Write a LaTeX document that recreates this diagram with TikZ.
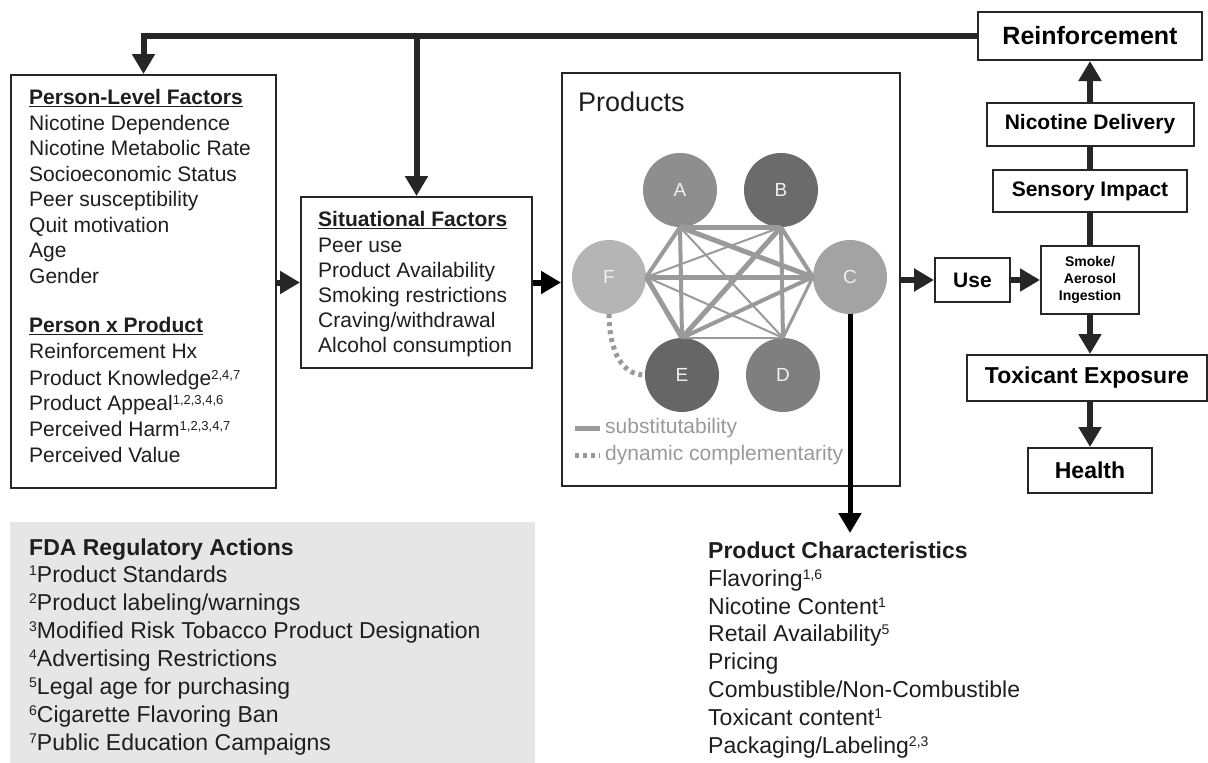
\documentclass[tikz,border=0pt]{standalone}
\usepackage{fontspec}
\setmainfont{Liberation Sans}
\usetikzlibrary{arrows.meta}
\definecolor{ink}{HTML}{262626}
\definecolor{txtc}{HTML}{1E1E1E}
\definecolor{edgec}{HTML}{9A9A9A}
\definecolor{fdagray}{HTML}{E6E6E6}
\definecolor{cA}{HTML}{8E8E8E}
\definecolor{cB}{HTML}{6B6B6B}
\definecolor{cC}{HTML}{A3A3A3}
\definecolor{cD}{HTML}{7F7F7F}
\definecolor{cE}{HTML}{666666}
\definecolor{cF}{HTML}{B5B5B5}
\newcommand\setfs[2]{\fontsize{#1}{#2}\selectfont}
\newcommand\supS[1]{\raisebox{6pt}{\fontsize{13}{13}\selectfont #1}}
\newcommand\supL[1]{\raisebox{7pt}{\fontsize{14}{14}\selectfont #1}}
\tikzset{
  box/.style={draw=ink, line width=2pt, fill=white, inner sep=0pt},
  darr/.style={draw=ink, line width=6pt, -{Triangle[length=20pt,width=22pt]}},
  barr/.style={draw=black, line width=6pt, -{Triangle[length=20pt,width=22pt]}},
  dline/.style={draw=ink, line width=6pt},
  txt/.style={anchor=base west, inner sep=0pt, text=txtc, font=\setfs{21}{25}},
  hdr/.style={anchor=base west, inner sep=0pt, text=txtc, font=\bfseries\setfs{21}{25}},
  txtL/.style={anchor=base west, inner sep=0pt, text=txtc, font=\setfs{23}{28}},
  hdrL/.style={anchor=base west, inner sep=0pt, text=txtc, font=\bfseries\setfs{23}{28}},
  prodc/.style={circle, minimum size=74pt, inner sep=0pt, text=white!94!black, font=\setfs{19}{19}},
  sub/.style={draw=edgec},
  legtxt/.style={anchor=west, inner sep=0pt, text=edgec, font=\setfs{21}{25}},
}
\begin{document}
\begin{tikzpicture}[x=1pt,y=-1pt]
\useasboundingbox[fill=white] (0,0) rectangle (1208,763);

% FDA panel
\node[fill=fdagray, minimum width=525pt, minimum height=241pt, inner sep=0pt, anchor=north west] (fda) at (10,522) {};

% boxes
\node[box, minimum width=265pt, minimum height=413pt] (personbox) at (143.5,281.5) {};
\node[box, minimum width=231pt, minimum height=171pt] (sitbox) at (416.5,282.5) {};
\node[box, minimum width=338pt, minimum height=413pt] (prodbox) at (731,279.5) {};
\node[box, minimum width=224pt, minimum height=48pt, font=\bfseries\setfs{25}{30}] (reinf) at (1090,36) {Reinforcement};
\node[box, minimum width=207pt, minimum height=43pt, font=\bfseries\setfs{21}{25}] (nicdel) at (1090,124.5) {Nicotine Delivery};
\node[box, minimum width=194pt, minimum height=42pt, font=\bfseries\setfs{21}{25}] (sensory) at (1090,191) {Sensory Impact};
\node[box, minimum width=75pt, minimum height=44pt, font=\bfseries\setfs{21}{25}] (use) at (972.5,280) {Use};
\node[box, minimum width=98pt, minimum height=68pt, align=center, font=\bfseries\setfs{14}{17}] (smoke) at (1090,280) {Smoke/\\Aerosol\\Ingestion};
\node[box, minimum width=240pt, minimum height=46pt, font=\bfseries\setfs{23}{28}] (toxic) at (1087,378) {Toxicant Exposure};
\node[box, minimum width=124pt, minimum height=45pt, font=\bfseries\setfs{23}{28}] (health) at (1090,470.5) {Health};

% person-level text
\node[hdr] (p0) at (29,104.5) {\underline{Person-Level Factors}};
\node[txt] (p1) at (29,130) {Nicotine Dependence};
\node[txt] (p2) at (29,155.5) {Nicotine Metabolic Rate};
\node[txt] (p3) at (29,181) {Socioeconomic Status};
\node[txt] (p4) at (29,206.5) {Peer susceptibility};
\node[txt] (p5) at (29,232) {Quit motivation};
\node[txt] (p6) at (29,257.5) {Age};
\node[txt] (p7) at (29,283) {Gender};
\node[hdr] (q0) at (29,332.5) {\underline{Person x Product}};
\node[txt] (q1) at (29,358) {Reinforcement Hx};
\node[txt] (q2) at (29,385) {Product Knowledge\supS{2,4,7}};
\node[txt] (q3) at (29,410.5) {Product Appeal\supS{1,2,3,4,6}};
\node[txt] (q4) at (29,436.5) {Perceived Harm\supS{1,2,3,4,7}};
\node[txt] (q5) at (29,462.5) {Perceived Value};

% situational text
\node[hdr] (s0) at (318,226.5) {\underline{Situational Factors}};
\node[txt] (s1) at (318,252) {Peer use};
\node[txt] (s2) at (318,277) {Product Availability};
\node[txt] (s3) at (318,302.5) {Smoking restrictions};
\node[txt] (s4) at (318,327.5) {Craving/withdrawal};
\node[txt] (s5) at (318,352.5) {Alcohol consumption};

% products
\node[anchor=west, inner sep=0pt, font=\setfs{27}{30}, text=txtc] (prodlabel) at (578,102) {Products};
\node[prodc, fill=cA] (A) at (680,190) {A};
\node[prodc, fill=cB] (B) at (781,190) {B};
\node[prodc, fill=cF] (F) at (609,277) {F};
\node[prodc, fill=cC] (C) at (850,277) {C};
\node[prodc, fill=cE] (E) at (682,375) {E};
\node[prodc, fill=cD] (D) at (783,375) {D};

\draw[sub, line width=5pt] (A.south) -- (B.south);
\draw[sub, line width=5pt] (F.east) -- (C.west);
\draw[sub, line width=2pt] (E.north) -- (D.north);
\draw[sub, line width=4pt] (A.south) -- (E.north);
\draw[sub, line width=4pt] (B.south) -- (D.north);
\draw[sub, line width=4pt] (A.south) -- (F.east);
\draw[sub, line width=4pt] (B.south) -- (C.west);
\draw[sub, line width=5pt] (F.east) -- (E.north);
\draw[sub, line width=3pt] (D.north) -- (C.west);
\draw[sub, line width=5pt] (A.south) -- (C.west);
\draw[sub, line width=2pt] (A.south) -- (D.north);
\draw[sub, line width=2pt] (B.south) -- (F.east);
\draw[sub, line width=5pt] (B.south) -- (E.north);
\draw[sub, line width=4pt] (E.north) -- (C.west);
\draw[sub, line width=2pt] (F.east) -- (D.north);
\draw[sub, line width=5pt, dash pattern=on 4pt off 4pt] (F.south) to[out=-90,in=180] (E.west);

% legend
\coordinate (l1a) at (575,428);
\coordinate (l1b) at (600,428);
\coordinate (l2a) at (575,455);
\coordinate (l2b) at (600,455);
\draw[sub, line width=5pt] (l1a) -- (l1b);
\draw[sub, line width=5pt, dash pattern=on 4pt off 4pt] (l2a) -- (l2b);
\node[legtxt] (leg1) at (605,428) {substitutability};
\node[legtxt] (leg2) at (605,455) {dynamic complementarity};

% connectors
\draw[darr] (reinf.west) -| (personbox.north);
\draw[darr] (sitbox.north |- reinf.west) -- (sitbox.north);
\draw[darr] (sitbox.west -| personbox.east) -- (sitbox.west);
\draw[barr] (sitbox.east) -- (prodbox.west |- sitbox.east);
\draw[darr] (prodbox.east |- use.west) -- (use.west);
\draw[darr] (use.east) -- (smoke.west |- use.east);
\draw[dline] (smoke.north) -- (sensory.south);
\draw[dline] (sensory.north) -- (nicdel.south);
\draw[darr] (nicdel.north) -- (reinf.south);
\draw[darr] (smoke.south) -- (smoke.south |- toxic.north);
\draw[darr] (health.north |- toxic.south) -- (health.north);
\coordinate (pctip) at (850,533);
\draw[barr, line width=5pt] (C.south) -- (pctip);

% product characteristics
\node[hdrL] (c0) at (708,558) {Product Characteristics};
\node[txtL] (c1) at (708,586) {Flavoring\supL{1,6}};
\node[txtL] (c2) at (708,614) {Nicotine Content\supL{1}};
\node[txtL] (c3) at (708,641.5) {Retail Availability\supL{5}};
\node[txtL] (c4) at (708,669.5) {Pricing};
\node[txtL] (c5) at (708,697.5) {Combustible/Non-Combustible};
\node[txtL] (c6) at (708,725.5) {Toxicant content\supL{1}};
\node[txtL] (c7) at (708,753) {Packaging/Labeling\supL{2,3}};

% FDA text
\node[hdrL] (f0) at (29,555) {FDA Regulatory Actions};
\node[txtL] (f1) at (29,582.5) {\supL{1}Product Standards};
\node[txtL] (f2) at (29,610.5) {\supL{2}Product labeling/warnings};
\node[txtL] (f3) at (29,638.5) {\supL{3}Modified Risk Tobacco Product Designation};
\node[txtL] (f4) at (29,666.5) {\supL{4}Advertising Restrictions};
\node[txtL] (f5) at (29,694.5) {\supL{5}Legal age for purchasing};
\node[txtL] (f6) at (29,722.5) {\supL{6}Cigarette Flavoring Ban};
\node[txtL] (f7) at (29,750.5) {\supL{7}Public Education Campaigns};
\end{tikzpicture}
\end{document}
